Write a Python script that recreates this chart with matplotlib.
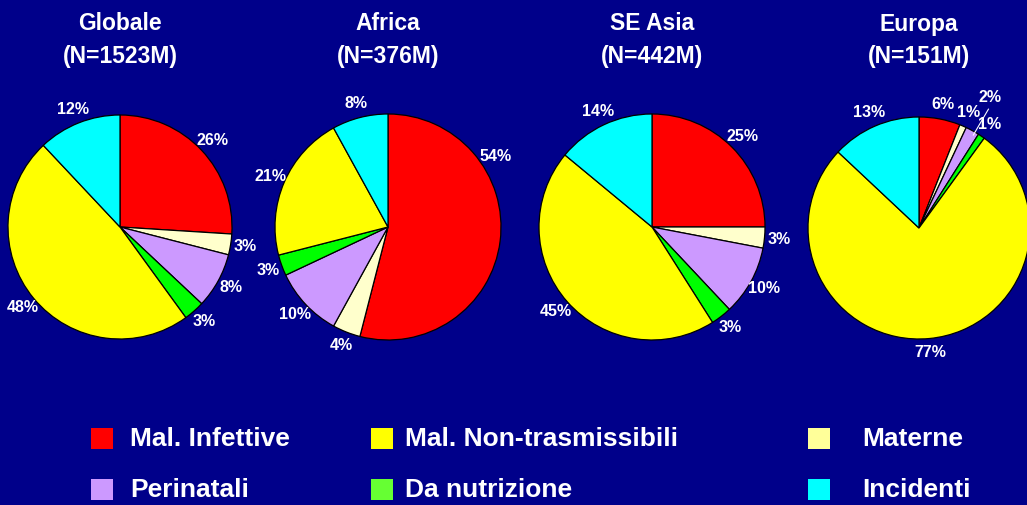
import numpy as np
import matplotlib.pyplot as plt
from matplotlib.patches import Rectangle

# ---------------------------------------------------------------------------
# Data (percentages, wedge order clockwise from 12 o'clock)
# ---------------------------------------------------------------------------
categories = ["Mal. Infettive", "Materne", "Perinatali",
              "Da nutrizione", "Mal. Non-trasmissibili", "Incidenti"]
regions = ["Globale", "Africa", "SE Asia", "Europa"]
totals = ["1523M", "376M", "442M", "151M"]

globale = [26, 3, 8, 3, 48, 12]
africa = [54, 4, 10, 3, 21, 8]
se_asia = [25, 3, 10, 3, 45, 14]
europa = [6, 1, 2, 1, 77, 13]

# legend order (as laid out on the slide, row by row)
legend_order = ["Mal. Infettive", "Mal. Non-trasmissibili", "Materne",
                "Perinatali", "Da nutrizione", "Incidenti"]

# ---------------------------------------------------------------------------
# Styling
# ---------------------------------------------------------------------------
BG = "#00008a"
pie_colors = ["#ff0000", "#ffffcc", "#cc99ff", "#00ff00", "#ffff00", "#00ffff"]
legend_colors = {"Mal. Infettive": "#ff0000", "Mal. Non-trasmissibili": "#ffff00",
                 "Materne": "#ffff99", "Perinatali": "#cc99ff",
                 "Da nutrizione": "#66ff33", "Incidenti": "#00ffff"}
NARROW = ["Liberation Sans Narrow", "Liberation Sans", "DejaVu Sans"]
WIDE = ["Liberation Sans", "DejaVu Sans"]

W, H = 1027, 505
centers = [(120, 227), (388, 227), (652, 227), (919, 228)]
radii = [112, 113, 113, 111]

fig = plt.figure(figsize=(W / 100, H / 100), dpi=100, facecolor=BG)
ax = fig.add_axes([0, 0, 1, 1])
ax.set_facecolor(BG)

all_values = [globale, africa, se_asia, europa]
for i, (name, tot, vals) in enumerate(zip(regions, totals, all_values)):
    cx, cy = centers[i]
    cy = H - cy
    r = radii[i]
    wedges, _, autotexts = ax.pie(
        vals, colors=pie_colors, startangle=90, counterclock=False,
        center=(cx, cy), radius=r, autopct=lambda p: f"{p:.0f}%",
        pctdistance=1.13, frame=True,
        wedgeprops=dict(edgecolor="black", linewidth=0.9),
        textprops=dict(color="white", fontsize=11.5, fontweight="bold",
                       family=NARROW))

    # Africa: the big red label sits higher, towards upper right
    if name == "Africa":
        ang = np.deg2rad(33)
        autotexts[0].set_position((cx + 1.14 * r * np.cos(ang),
                                   cy + 1.14 * r * np.sin(ang)))
    # Europa: the small lavender label is pushed out with a leader line
    if name == "Europa":
        w = wedges[2]
        ang = np.deg2rad((w.theta1 + w.theta2) / 2 - 1.5)
        autotexts[2].set_position((cx + 1.36 * r * np.cos(ang) - 5,
                                   cy + 1.36 * r * np.sin(ang)))
        ax.plot([cx + 0.97 * r * np.cos(ang), cx + 1.24 * r * np.cos(ang)],
                [cy + 0.97 * r * np.sin(ang), cy + 1.24 * r * np.sin(ang)],
                color="white", lw=0.8)

    ax.text(cx, H - 24, name, ha="center", va="center", color="white",
            fontsize=16.5, fontweight="bold", family=NARROW)
    ax.text(cx, H - 57, f"(N={tot})", ha="center", va="center",
            color="white", fontsize=16.5, fontweight="bold", family=NARROW)

ax.set_xlim(0, W)
ax.set_ylim(0, H)
ax.set_aspect("equal")
ax.axis("off")

# ---------------------------------------------------------------------------
# Legend (hand-laid like the slide)
# ---------------------------------------------------------------------------
sq_x = [91, 371, 808]
txt_x = [130, 405, 862]
row_y = [439, 490]
for k, lab in enumerate(legend_order):
    row, col = divmod(k, 3)
    y = H - row_y[row]
    ax.add_patch(Rectangle((sq_x[col], y - 10), 22, 21,
                           facecolor=legend_colors[lab], edgecolor="none"))
    ax.text(txt_x[col], y, lab, ha="left", va="center", color="white",
            fontsize=19, fontweight="bold", family=WIDE)

fig.savefig("out.png", dpi=100, facecolor=BG)
